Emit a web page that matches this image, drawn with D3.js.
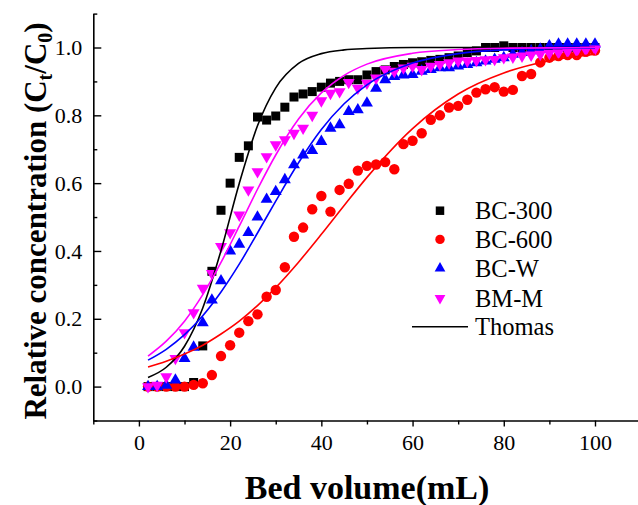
<!DOCTYPE html>
<html lang="en">
  <head>
    <meta charset="utf-8">
    <title>Breakthrough curves</title>
    <style>
      body { margin: 0; background: #fff; }
      text { font-family: "Liberation Serif", "Times New Roman", serif; fill: #000; }
    </style>
  </head>
  <body>

<script src="https://cdn.jsdelivr.net/npm/d3@7"></script>

<script>
// bed volume (mL) for every measured point
var bedVolume = [2, 4, 6, 8, 10, 12, 14, 16, 18, 20, 22, 24, 26, 28, 30, 32, 34, 36, 38, 40,
  42, 44, 46, 48, 50, 52, 54, 56, 58, 60, 62, 64, 66, 68, 70, 72, 74, 76, 78, 80,
  82, 84, 86, 88, 90, 92, 94, 96, 98, 100];

var bc300 = [0, 0, 0, 0, 0, 0.012, 0.12, 0.34, 0.52, 0.60, 0.676, 0.71, 0.795, 0.786, 0.798, 0.824, 0.854, 0.863, 0.87, 0.883,
  0.895, 0.90, 0.905, 0.905, 0.919, 0.929, 0.934, 0.944, 0.95, 0.955, 0.958, 0.962, 0.965, 0.97, 0.975, 0.985, 0.99, 1.0, 1.0, 1.005,
  1.0, 1.0, 1.0, 1.0, 1.0, 1.0, 1.0, 1.0, 1.0, 1.0];

var bc600 = [0, 0, 0, 0, 0, 0.005, 0.01, 0.034, 0.09, 0.122, 0.159, 0.193, 0.213, 0.265, 0.285, 0.352, 0.442, 0.469, 0.523, 0.562,
  0.516, 0.58, 0.598, 0.637, 0.651, 0.655, 0.662, 0.641, 0.715, 0.725, 0.747, 0.787, 0.80, 0.823, 0.828, 0.846, 0.867, 0.877, 0.883, 0.87,
  0.875, 0.916, 0.922, 0.956, 0.97, 0.975, 0.978, 0.978, 0.987, 0.991];

var bcW = [0, 0, 0.004, 0.019, 0.083, 0.116, 0.188, 0.255, 0.312, 0.40, 0.42, 0.454, 0.50, 0.552, 0.575, 0.61, 0.654, 0.683, 0.696, 0.723,
  0.762, 0.772, 0.811, 0.816, 0.836, 0.88, 0.905, 0.914, 0.919, 0.92, 0.93, 0.935, 0.94, 0.94, 0.945, 0.95, 0.955, 0.96, 0.965, 0.97,
  0.98, 0.985, 0.99, 0.995, 1.005, 1.01, 1.01, 1.01, 1.01, 1.01];

var bmM = [0, 0.004, 0.029, 0.083, 0.159, 0.218, 0.29, 0.334, 0.413, 0.454, 0.506, 0.58, 0.634, 0.678, 0.713, 0.728, 0.747, 0.762, 0.80, 0.843,
  0.865, 0.87, 0.897, 0.88, 0.895, 0.91, 0.935, 0.93, 0.94, 0.945, 0.935, 0.945, 0.95, 0.955, 0.96, 0.96, 0.962, 0.964, 0.965, 0.97,
  0.972, 0.975, 0.978, 0.98, 0.983, 0.985, 0.988, 0.99, 0.993, 0.996];

// Thomas model curves
var thomasX = [2, 6, 10, 14, 18, 22, 26, 30, 35, 40, 45, 50, 60, 70, 80, 90, 100];
var thomas300 = [0.027, 0.057, 0.119, 0.232, 0.401, 0.599, 0.769, 0.881, 0.953, 0.982, 0.993, 0.997, 1.0, 1.0, 1.0, 1.0, 1.0];
var thomas600 = [0.058, 0.075, 0.096, 0.122, 0.155, 0.193, 0.239, 0.292, 0.367, 0.449, 0.534, 0.617, 0.761, 0.863, 0.925, 0.961, 0.980];
var thomasW = [0.078, 0.110, 0.153, 0.209, 0.279, 0.361, 0.453, 0.547, 0.660, 0.758, 0.834, 0.890, 0.954, 0.982, 0.993, 0.997, 0.999];
var thomasM = [0.090, 0.134, 0.193, 0.271, 0.366, 0.473, 0.582, 0.683, 0.789, 0.866, 0.918, 0.951, 0.983, 0.994, 0.998, 0.999, 1.0];

var xMajor = [0, 20, 40, 60, 80, 100];
var xMinor = [-10, 10, 30, 50, 70, 90, 110];
var yMajor = [0, 0.2, 0.4, 0.6, 0.8, 1.0];
var yMinor = [-0.1, 0.1, 0.3, 0.5, 0.7, 0.9, 1.1];

var series = [
  {name: 'BC-300', values: bc300, fit: thomas300, color: '#000000', shape: 'square'},
  {name: 'BC-600', values: bc600, fit: thomas600, color: '#ff0000', shape: 'circle'},
  {name: 'BC-W', values: bcW, fit: thomasW, color: '#0000ff', shape: 'up'},
  {name: 'BM-M', values: bmM, fit: thomasM, color: '#ff00ff', shape: 'down'}
];

var width = 638, height = 505;
var serif = '"Liberation Serif", "Times New Roman", serif';

var svg = d3.select('body').append('svg')
  .attr('width', width)
  .attr('height', height);

var x = d3.scaleLinear().domain([-10, 110]).range([93.3, 640.6]);
var y = d3.scaleLinear().domain([-0.1, 1.1]).range([420.5, 13.6]);

function symbolFor(shape, big) {
  if (shape === 'square') return d3.symbol(d3.symbolSquare, big ? 81 : 72)();
  if (shape === 'circle') return d3.symbol(d3.symbolCircle, big ? 85 : 70)();
  return d3.symbol(d3.symbolTriangle, big ? 62 : 50)();
}

// scatter points
series.forEach(function(s) {
  svg.append('g')
    .selectAll('path')
    .data(bedVolume.map(function(v, i) { return [v, s.values[i]]; }))
    .enter()
    .append('path')
      .attr('d', symbolFor(s.shape, true))
      .attr('transform', function(d) {
        return 'translate(' + x(d[0]) + ',' + y(d[1]) + ')' + (s.shape === 'down' ? ' rotate(180)' : '');
      })
      .attr('fill', s.color);
});

// Thomas fits
var line = d3.line()
  .x(function(d) { return x(d[0]); })
  .y(function(d) { return y(d[1]); })
  .curve(d3.curveMonotoneX);

series.forEach(function(s) {
  svg.append('path')
    .datum(thomasX.map(function(v, i) { return [v, s.fit[i]]; }))
    .attr('d', line)
    .attr('fill', 'none')
    .attr('stroke', s.color)
    .attr('stroke-width', 1.6);
});

// axes
var fmt = d3.format('.1f');

svg.append('g')
  .attr('transform', 'translate(0,' + y(-0.1) + ')')
  .call(d3.axisBottom(x).tickValues(xMajor).tickSizeInner(6).tickSizeOuter(0).tickPadding(8));
svg.append('g')
  .attr('transform', 'translate(0,' + y(-0.1) + ')')
  .call(d3.axisBottom(x).tickValues(xMinor).tickSizeInner(4).tickSizeOuter(0).tickFormat(''))
  .call(function(g) { g.select('.domain').remove(); });

svg.append('g')
  .attr('transform', 'translate(' + x(-10) + ',0)')
  .call(d3.axisLeft(y).tickValues(yMajor).tickFormat(fmt).tickSizeInner(-8).tickSizeOuter(0).tickPadding(11));
svg.append('g')
  .attr('transform', 'translate(' + x(-10) + ',0)')
  .call(d3.axisLeft(y).tickValues(yMinor).tickSizeInner(-4).tickSizeOuter(0).tickFormat(''))
  .call(function(g) { g.select('.domain').remove(); });

svg.selectAll('.domain').attr('stroke-width', 1.6);
svg.selectAll('.tick line').attr('stroke-width', 1.4);
svg.selectAll('.tick text')
  .style('font-family', serif)
  .attr('font-size', 22);

// axis titles
svg.append('text')
  .attr('x', 367)
  .attr('y', 499)
  .attr('text-anchor', 'middle')
  .attr('font-size', 34)
  .attr('font-weight', 'bold')
  .text('Bed volume(mL)');

var yTitle = svg.append('text')
  .attr('transform', 'translate(46,221) rotate(-90)')
  .attr('text-anchor', 'middle')
  .attr('font-size', 31)
  .attr('font-weight', 'bold');
yTitle.append('tspan').text('Relative concentration (C');
yTitle.append('tspan').attr('font-size', 20).attr('dy', 6).text('t');
yTitle.append('tspan').attr('dy', -6).text('/C');
yTitle.append('tspan').attr('font-size', 20).attr('dy', 6).text('0');
yTitle.append('tspan').attr('dy', -6).text(')');

// legend
var legendY = [210.7, 239.4, 268.3, 298.2];
var legend = svg.append('g');
series.forEach(function(s, i) {
  legend.append('path')
    .attr('d', symbolFor(s.shape, false))
    .attr('transform', 'translate(440,' + legendY[i] + ')' + (s.shape === 'down' ? ' rotate(180)' : ''))
    .attr('fill', s.color);
  legend.append('text')
    .attr('x', 475)
    .attr('y', legendY[i] + 8.5)
    .attr('font-size', 24.5)
    .text(s.name);
});
legend.append('line')
  .attr('x1', 412).attr('x2', 468)
  .attr('y1', 326.7).attr('y2', 326.7)
  .attr('stroke', '#000')
  .attr('stroke-width', 1.6);
legend.append('text')
  .attr('x', 475)
  .attr('y', 335.2)
  .attr('font-size', 24.5)
  .text('Thomas');
</script>

  </body>
</html>
